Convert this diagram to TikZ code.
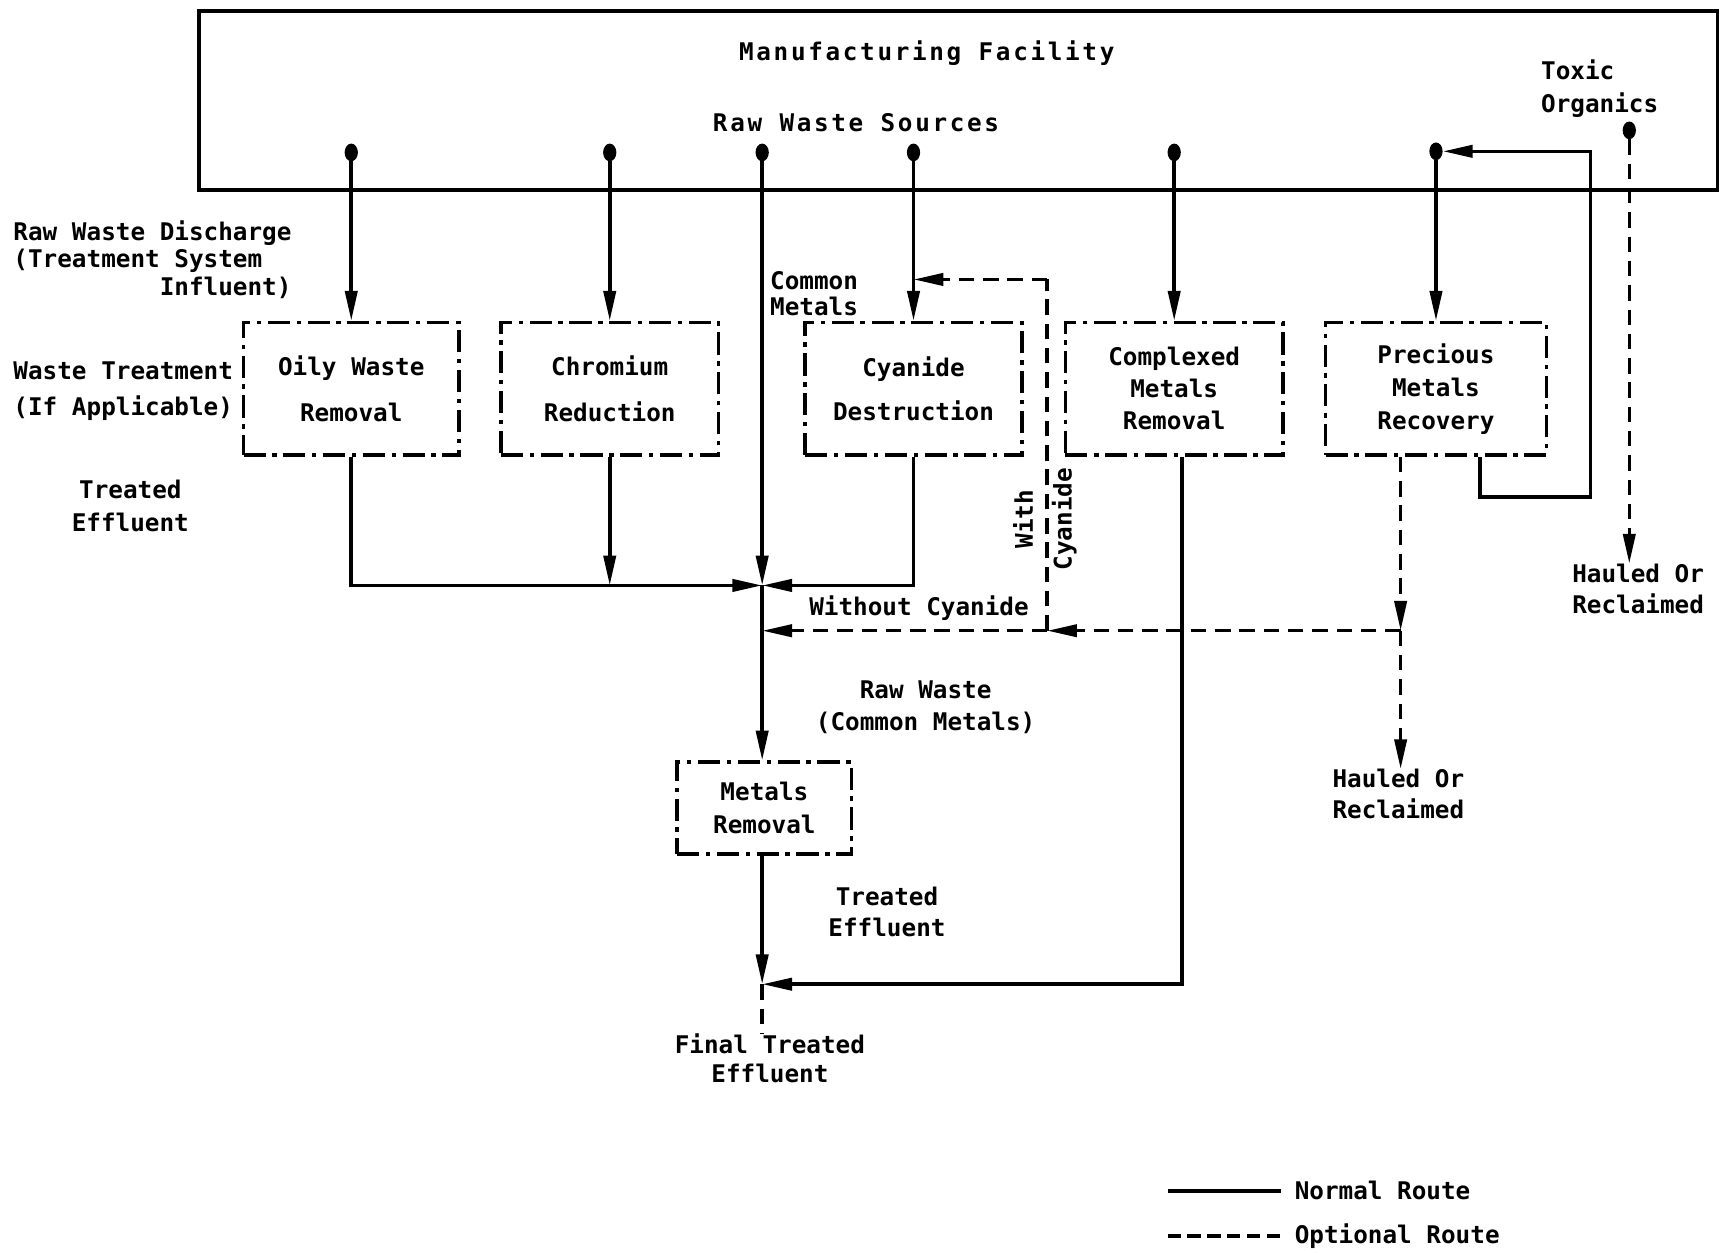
\documentclass[tikz,border=0pt]{standalone}
\usepackage{fontspec}
\setmonofont{DejaVu Sans Mono}
\newfontfamily\spacedtt{DejaVu Sans Mono}[LetterSpace=11]
\usetikzlibrary{arrows.meta,shapes.geometric}
\newcommand{\fs}[1]{\fontsize{22}{#1}\selectfont}
\begin{document}
\begin{tikzpicture}[x=1pt,y=-1pt,
  every node/.style={font=\ttfamily\bfseries\fs{28}, inner sep=0pt},
  ln/.style={line width=3.2pt},
  opt/.style={line width=3.2pt, dash pattern=on 14pt off 8pt},
  arr/.style={-{Triangle[length=27pt,width=11pt]}},
  proc/.style={draw, line width=3.2pt, dash pattern=on 20pt off 6pt on 4pt off 6pt, minimum height=120pt, align=center},
  src/.style={ellipse, fill, minimum width=12pt, minimum height=16pt, inner sep=0pt},
  sp/.style={font=\spacedtt\bfseries\fs{28}}]
\useasboundingbox (0,0) rectangle (1568,1134);

% facility box and its labels
\node[draw, line width=3.2pt, minimum width=1375pt, minimum height=162pt] (fac) at (867.5,91) {};
\node[sp] (title) at (839,48) {Manufacturing Facility};
\node[sp] (rws) at (775,111) {Raw Waste Sources};
\node[align=left, anchor=west, font=\ttfamily\bfseries\fs{30}] (tox) at (1395,80) {Toxic\\Organics};

% source points
\node[src] (d1) at (318,138) {};
\node[src] (d2) at (552,138) {};
\node[src] (d3) at (690,138) {};
\node[src] (d4) at (827,138) {};
\node[src] (d5) at (1063,138) {};
\node[src] (d6) at (1300,137) {};
\node[src] (d7) at (1475,118) {};

% left labels
\node[align=left, anchor=west, font=\ttfamily\bfseries\fs{25}] (rwd) at (12,235) {Raw Waste Discharge\\(Treatment System\\\phantom{Raw Waste }Influent)};
\node[align=left, anchor=west, font=\ttfamily\bfseries\fs{33}] (wt) at (12,354) {Waste Treatment\\(If Applicable)};
\node[align=center, font=\ttfamily\bfseries\fs{30}] (te1) at (118,458) {Treated\\Effluent};

% treatment boxes
\node[proc, minimum width=195pt] (oily) at (318,352) {Oily Waste\\[13pt]Removal};
\node[proc, minimum width=197pt] (chrom) at (552,352) {Chromium\\[13pt]Reduction};
\node[proc, minimum width=196pt] (cyan) at (827,352) {Cyanide\\[12pt]Destruction};
\node[proc, minimum width=197pt, font=\ttfamily\bfseries\fs{29}] (cmplx) at (1063,352) {Complexed\\Metals\\Removal};
\node[proc, minimum width=200pt, font=\ttfamily\bfseries\fs{30}] (prec) at (1300,352) {Precious\\Metals\\Recovery};
\node[proc, minimum width=158pt, minimum height=83pt, font=\ttfamily\bfseries\fs{30}] (metals) at (692,731.5) {Metals\\Removal};

% other labels
\node[align=left, anchor=west, font=\ttfamily\bfseries\fs{23}] (cm) at (697,266) {Common\\Metals};
\node (woc) at (832,551) {Without Cyanide};
\node[rotate=90, align=center, font=\ttfamily\bfseries\fs{35}] (wc) at (946,470) {With\\Cyanide};
\node[align=center, font=\ttfamily\bfseries\fs{29}] (rw) at (838,640) {Raw Waste\\(Common Metals)};
\node[align=center] (te2) at (803,826) {Treated\\Effluent};
\node[align=center, font=\ttfamily\bfseries\fs{27}] (fin) at (697,958) {Final Treated\\Effluent};
\node[align=center] (h1) at (1266,719) {Hauled Or\\Reclaimed};
\node[align=center] (h2) at (1483,533) {Hauled Or\\Reclaimed};

% coordinates
\coordinate (j) at (690,530);
\coordinate (k) at (690,891);
\coordinate (cx) at ([xshift=7pt]cmplx.south);
\coordinate (po) at ([xshift=-32pt]prec.south);
\coordinate (w1) at (1268,571);
\coordinate (w2) at (948,571);
\coordinate (w4) at (948,253);
\coordinate (r1) at ([xshift=40pt]prec.south);
\coordinate (rc) at (1440,450);

% normal routes
\draw[ln,arr] (d1) -- (oily);
\draw[ln,arr] (d2) -- (chrom);
\draw[ln,arr] (d4) -- (cyan);
\draw[ln,arr] (d5) -- (cmplx);
\draw[ln,arr] (d6) -- (prec);
\draw[ln,arr] (d3) -- (j);
\draw[ln,arr] (oily.south) -- (oily.south |- j) -- (j);
\draw[ln,arr] (chrom.south) -- (chrom.south |- j);
\draw[ln,arr] (cyan.south) -- (cyan.south |- j) -- (j);
\draw[ln,arr] (j) -- (j |- metals.north);
\draw[ln,arr] (metals.south -| j) -- (k);
\draw[ln,arr] (cx) -- (cx |- k) -- (k);
\draw[ln,arr] (r1) -- (r1 |- rc) -- (rc) -- (rc |- d6) -- (d6);

% optional routes
\draw[opt] (k) -- (k |- fin.north);
\draw[opt,arr] (po) -- (w1);
\draw[opt,arr] (w1) -- (w1 |- h1.north);
\draw[opt,arr] (w1) -- (w2);
\draw[opt,arr] (w2) -- (j |- w2);
\draw[opt] (w2) -- (w4);
\draw[opt,arr] (w4) -- (d4 |- w4);
\draw[opt,arr] (d7) -- (d7 |- h2.north);

% legend
\node[anchor=west] (nr) at (1172,1078) {Normal Route};
\node[anchor=west] (orr) at (1172,1119) {Optional Route};
\coordinate (la) at (1057,1078);
\coordinate (lb) at (1057,1119);
\draw[ln] (la) -- ([xshift=-12pt]nr.west);
\draw[line width=3.2pt, dash pattern=on 12pt off 6pt] (lb) -- ([xshift=-12pt]orr.west);
\end{tikzpicture}
\end{document}
